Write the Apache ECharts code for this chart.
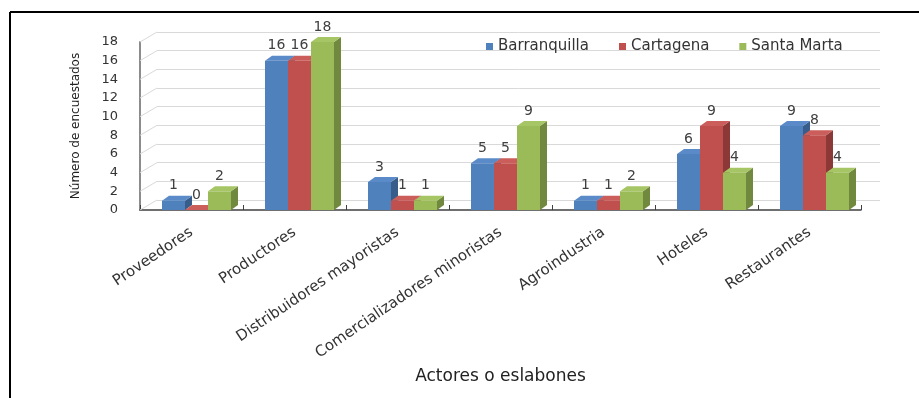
<!DOCTYPE html>
<html>
<head>
<meta charset="utf-8">
<script src="https://cdn.jsdelivr.net/npm/echarts@6/dist/echarts.min.js"></script>
<style>
html,body{margin:0;padding:0;background:#fff;}
#chart{width:919px;height:398px;}
</style>
</head>
<body>
<div id="chart"></div>
<script>
const categories = ['Proveedores','Productores','Distribuidores mayoristas','Comercializadores minoristas','Agroindustria','Hoteles','Restaurantes'];
const seriesNames = ['Barranquilla','Cartagena','Santa Marta'];
const barranquilla = [1,16,3,5,1,6,9];
const cartagena = [0,16,1,5,1,9,8];
const santaMarta = [2,18,1,9,2,4,4];
const yTicks = [0,2,4,6,8,10,12,14,16,18];

const FONT = 'DejaVu Sans';
const BAR_W = 23, DX = 7, DY = 5;
const frontColors = ['#4F81BD','#C0504D','#9BBB59'];
const sideColors = ['#385D8A','#8C3836','#71893F'];
const topColors = ['#5A8BC8','#CB5E5B','#A6C565'];
const values = [barranquilla, cartagena, santaMarta];

function depthRender(s) {
  return function (params, api) {
    const cat = api.value(0), val = api.value(1);
    const c = api.coord([cat, val]);
    const b = api.coord([cat, 0]);
    const l = c[0] - 1.5 * BAR_W + s * BAR_W;
    const r = l + BAR_W;
    const y = c[1], y0 = b[1];
    return {
      type: 'group',
      children: [
        {type: 'polygon', shape: {points: [[r, y], [r, y0], [r + DX, y0 - DY], [r + DX, y - DY]]}, style: {fill: sideColors[s]}},
        {type: 'polygon', shape: {points: [[l, y], [r, y], [r + DX, y - DY], [l + DX, y - DY]]}, style: {fill: topColors[s]}}
      ]
    };
  };
}

const series = [];
values.forEach((vals, s) => {
  series.push({
    name: seriesNames[s], type: 'bar', xAxisIndex: 1, yAxisIndex: 1,
    data: vals, barWidth: BAR_W, barGap: '0%', z: 3,
    itemStyle: {color: frontColors[s]},
    label: {show: true, position: 'top', distance: 8, color: '#404040', fontFamily: FONT, fontSize: 14},
    animation: false
  });
});
values.forEach((vals, s) => {
  series.push({
    name: seriesNames[s], type: 'custom', xAxisIndex: 1, yAxisIndex: 1, z: 2,
    data: vals.map((v, i) => [i, v]),
    renderItem: depthRender(s), animation: false, silent: true
  });
});
// side wall diagonal gridlines
series.push({
  type: 'custom', xAxisIndex: 0, yAxisIndex: 0, z: 1, silent: true, animation: false,
  data: yTicks.map(v => [0, v]),
  renderItem: function (params, api) {
    const p = api.coord([0, api.value(1)]);
    const w = api.size([1, 0])[0];
    const x0 = p[0] - w / 2;
    return {type: 'line', shape: {x1: x0, y1: p[1], x2: x0 + 17, y2: p[1] - 10}, style: {stroke: '#D9D9D9', lineWidth: 1}};
  }
});

const chart = echarts.init(document.getElementById('chart'), null, {renderer: 'canvas'});
chart.setOption({
  backgroundColor: '#fff',
  animation: false,
  legend: {
    data: seriesNames, left: 481, top: 34, icon: 'rect', itemWidth: 7, itemHeight: 7, itemGap: 30,
    textStyle: {fontFamily: FONT, fontSize: 15, color: '#333'}
  },
  grid: [
    {left: 140, right: 58, top: 42, bottom: 188},
    {left: 145, right: 53, top: 42, bottom: 188},
    {left: 157, right: 39, top: 32, bottom: 198}
  ],
  xAxis: [
    {type: 'category', gridIndex: 0, data: categories,
      axisLine: {lineStyle: {color: '#404040', width: 1.5}},
      axisTick: {show: true, inside: true, length: 5, lineStyle: {color: '#404040'}},
      axisLabel: {rotate: 34, margin: 21, fontFamily: FONT, fontSize: 15, color: '#333', interval: 0},
      name: 'Actores o eslabones', nameLocation: 'middle', nameGap: 158,
      nameTextStyle: {fontFamily: FONT, fontSize: 17, color: '#222'}},
    {type: 'category', gridIndex: 1, data: categories, show: false},
    {type: 'category', gridIndex: 2, data: categories, show: false}
  ],
  yAxis: [
    {type: 'value', gridIndex: 0, min: 0, max: 18, interval: 2,
      axisLine: {show: true, lineStyle: {color: '#8C8C8C', width: 2}},
      axisTick: {show: false}, splitLine: {show: false},
      axisLabel: {margin: 22, fontFamily: FONT, fontSize: 13, color: '#333'},
      name: 'Número de encuestados', nameLocation: 'middle', nameRotate: 90, nameGap: 58,
      nameTextStyle: {fontFamily: FONT, fontSize: 12, color: '#222'}},
    {type: 'value', gridIndex: 1, min: 0, max: 18, interval: 2, show: false, splitLine: {show: false}},
    {type: 'value', gridIndex: 2, min: 0, max: 18, interval: 2,
      axisLine: {show: false}, axisTick: {show: false}, axisLabel: {show: false},
      splitLine: {show: true, lineStyle: {color: '#D9D9D9', width: 1}}}
  ],
  graphic: [
    {type: 'line', shape: {x1: 10, y1: 12, x2: 919, y2: 12}, style: {stroke: '#000', lineWidth: 2}, z: 100},
    {type: 'line', shape: {x1: 10, y1: 12, x2: 10, y2: 398}, style: {stroke: '#000', lineWidth: 2}, z: 100}
  ],
  series: series
});
</script>
</body>
</html>
